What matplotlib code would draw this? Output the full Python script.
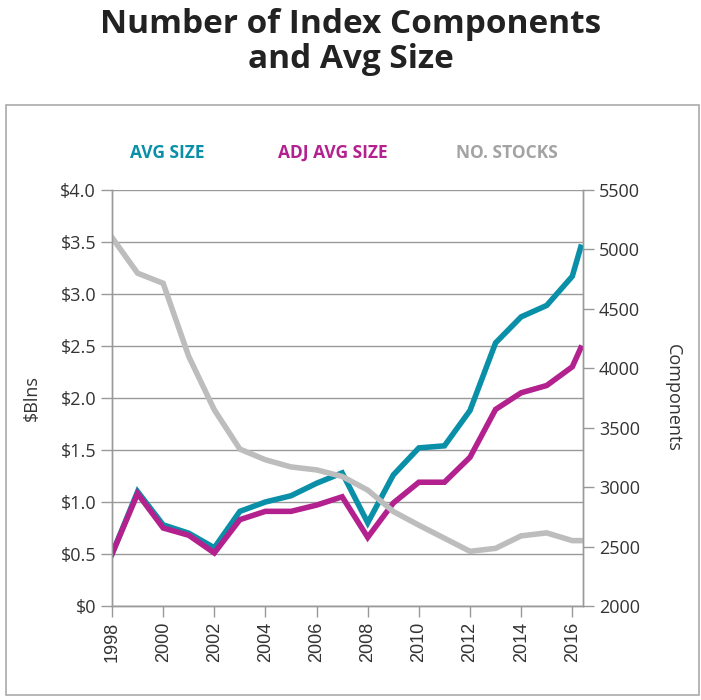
import matplotlib.pyplot as plt
from matplotlib.patches import Rectangle

# data
years = [1998, 1999, 2000, 2001, 2002, 2003, 2004, 2005, 2006, 2007, 2008,
         2009, 2010, 2011, 2012, 2013, 2014, 2015, 2016, 2016.33]
avg_size = [0.50, 1.10, 0.78, 0.70, 0.56, 0.91, 1.00, 1.06, 1.18, 1.28, 0.80,
            1.26, 1.52, 1.54, 1.88, 2.53, 2.78, 2.89, 3.17, 3.45]
adj_avg_size = [0.50, 1.08, 0.75, 0.68, 0.51, 0.83, 0.91, 0.91, 0.97, 1.05, 0.66,
                0.99, 1.19, 1.19, 1.43, 1.89, 2.05, 2.12, 2.30, 2.48]
no_stocks = [5100, 4800, 4715, 4100, 3650, 3320, 3230, 3170, 3145, 3090, 2975,
             2795, 2680, 2570, 2460, 2485, 2590, 2615, 2550, 2550]

left_ticks = [0, 0.5, 1.0, 1.5, 2.0, 2.5, 3.0, 3.5, 4.0]
right_ticks = [2000, 2500, 3000, 3500, 4000, 4500, 5000, 5500]
year_ticks = list(range(1998, 2017, 2))

teal = '#0a8fa8'
magenta = '#b3218f'
grey = '#bdbdbd'
axis_grey = '#999999'
text_col = '#333333'

plt.rcParams['font.family'] = ['Open Sans', 'DejaVu Sans']

fig = plt.figure(figsize=(7.01, 7.0), dpi=100)

# outer frame
fig.patches.append(Rectangle((6 / 701, 5 / 700), 693 / 701, 590 / 700, transform=fig.transFigure,
                             fill=False, edgecolor='#aaaaaa', linewidth=1.2))

fig.text(0.5, 0.988, 'Number of Index Components\nand Avg Size', ha='center', va='top',
         fontsize=24, fontweight='bold', color='#222222', linespacing=1.05)

ax = fig.add_axes([0.1598, 0.1343, 0.6719, 0.5943])
ax2 = ax.twinx()

ax.plot(years, avg_size, color=teal, lw=4, solid_joinstyle='miter', zorder=3)
ax.plot(years, adj_avg_size, color=magenta, lw=4, solid_joinstyle='miter', zorder=4)
ax2.plot(years, no_stocks, color=grey, lw=4, solid_joinstyle='miter')

ax.set_xlim(1998, 2016.42)
ax.set_ylim(0, 4.0)
ax2.set_ylim(2000, 5500)

ax.set_yticks(left_ticks)
ax.set_yticklabels(['$' + f'{v:.1f}' if v else '$0' for v in left_ticks])
ax2.set_yticks(right_ticks)
ax.set_xticks(year_ticks)
ax.set_xticklabels([str(y) for y in year_ticks], rotation=90,
                   family=['Liberation Sans', 'DejaVu Sans'], fontsize=14)

ax.grid(axis='y', color=axis_grey, lw=1)
ax.set_axisbelow(True)

for a in (ax, ax2):
    a.spines['top'].set_visible(False)
    for s in ('left', 'right', 'bottom'):
        a.spines[s].set_color(axis_grey)
        a.spines[s].set_linewidth(1)
    a.tick_params(colors=axis_grey, labelcolor=text_col, labelsize=13, length=8, width=1)

ax.set_ylabel('$Blns', fontsize=13, color=text_col, labelpad=14)
ax2.set_ylabel('Components', fontsize=13, color=text_col, rotation=-90, labelpad=30)

# legend as coloured text
fig.text(167 / 701, 1 - 153 / 700, 'AVG SIZE', color=teal, fontsize=12.5, fontweight='bold',
         ha='center', va='center')
fig.text(333 / 701, 1 - 153 / 700, 'ADJ AVG SIZE', color=magenta, fontsize=12.5, fontweight='bold',
         ha='center', va='center')
fig.text(507 / 701, 1 - 153 / 700, 'NO. STOCKS', color='#a3a3a3', fontsize=12.5, fontweight='bold',
         ha='center', va='center')

plt.savefig('out.png', dpi=100)
